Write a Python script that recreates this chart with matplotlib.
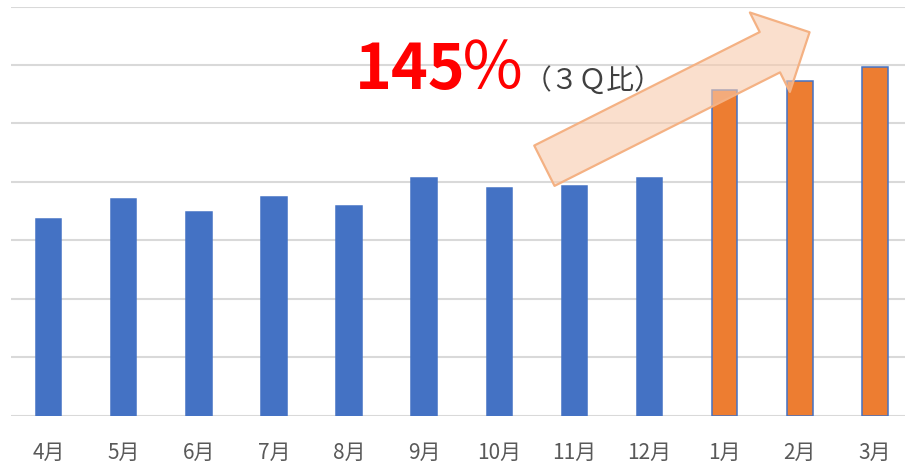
import numpy as np
import matplotlib.pyplot as plt

plt.rcParams['font.family'] = ['Noto Sans CJK JP', 'DejaVu Sans']

months = ['4月', '5月', '6月', '7月', '8月', '9月', '10月', '11月', '12月', '1月', '2月', '3月']
sales = [3.37, 3.70, 3.48, 3.74, 3.58, 4.07, 3.90, 3.93, 4.06, 5.57, 5.73, 5.96]
is_q4 = [False] * 9 + [True] * 3

blue = '#4472C4'
orange = '#ED7D31'

fig = plt.figure(figsize=(9.05, 4.64), dpi=100)
ax = fig.add_axes([11 / 905, 47.5 / 464, 901.5 / 905, 409 / 464])

x = np.arange(len(months))
colors = [orange if q else blue for q in is_q4]
ax.bar(x, sales, width=0.34, color=colors, edgecolor=blue, linewidth=1.1, zorder=2)

ax.set_xlim(-0.5, len(months) - 0.5)
ax.set_ylim(0, 7)
ax.set_yticks(range(0, 8))
ax.yaxis.grid(True, color='#D9D9D9', linewidth=1.5, zorder=0)
ax.set_axisbelow(True)
ax.tick_params(axis='y', left=False, labelleft=False)
ax.tick_params(axis='x', length=0, pad=18, labelsize=15, labelcolor='#595959')
ax.set_xticks(x)
ax.set_xticklabels(months)
for s in ax.spines.values():
    s.set_visible(False)

# growth arrow (3Q -> 4Q)
ax.annotate('', xy=(10.13, 6.56), xytext=(6.60, 4.275),
            arrowprops=dict(arrowstyle='simple,head_length=32,head_width=64,tail_width=32.5',
                            mutation_scale=1, shrinkA=0, shrinkB=0,
                            facecolor=(248 / 255, 203 / 255, 173 / 255, 0.6),
                            edgecolor='#F4B183', linewidth=1.6),
            zorder=3)

ax.text(4.08, 5.60, '145', color='#FF0000', fontsize=45, fontweight='bold',
        ha='left', va='baseline', zorder=4)
ax.text(5.47, 5.60, '％', color='#FF0000', fontsize=47, fontweight='normal',
        ha='left', va='baseline', zorder=4)
ax.text(6.33, 5.615, '（３Ｑ比）', color='#404040', fontsize=20,
        ha='left', va='baseline', zorder=4)

plt.savefig('out.png', dpi=100)
